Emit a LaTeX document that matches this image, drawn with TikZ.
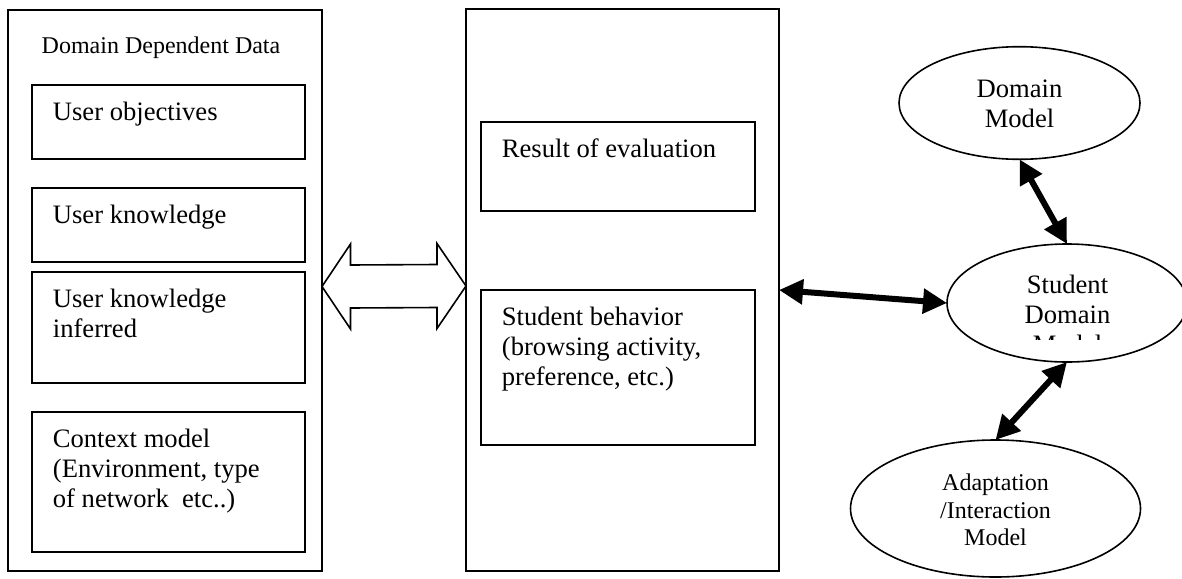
\documentclass[tikz,border=0pt]{standalone}
\usepackage{fontspec}
\setmainfont{Liberation Serif}
\usetikzlibrary{shapes.geometric,arrows.meta,calc}
\begin{document}
\begin{tikzpicture}[x=0.5pt,y=-0.5pt,
  frame/.style={draw, line width=0.8pt, inner sep=0pt, outer sep=0pt},
  item/.style={frame, minimum width=136.5pt},
  txt/.style={anchor=north west, inner sep=0pt, align=left,
    font=\fontsize{13.3}{15}\selectfont},
  oval/.style={ellipse, draw, line width=0.8pt, inner sep=0pt, outer sep=0pt},
  otxt/.style={anchor=north, inner sep=0pt, align=center,
    font=\fontsize{13.3}{15}\selectfont},
  link/.style={line width=3pt,
    {Triangle[length=12pt,width=12pt]}-{Triangle[length=12pt,width=12pt]}},
  hollow/.style={line width=0.8pt, fill=white, line join=miter},
]
\useasboundingbox (0,0) rectangle (1182,578);

% left column: domain dependent data
\node[frame, minimum width=157pt, minimum height=280.5pt] (L) at (165,290.5) {};
\node[anchor=base, inner sep=0pt, font=\fontsize{12}{14}\selectfont] (Ltitle) at (161,53.3) {Domain Dependent Data};
\node[item, minimum height=37pt]   (b1) at (168.5,122)   {};
\node[item, minimum height=37pt]   (b2) at (168.5,225)   {};
\node[item, minimum height=55.5pt] (b3) at (168.5,327.5) {};
\node[item, minimum height=70pt]   (b4) at (168.5,482)   {};
\node[txt] (t1) at ([shift={(20.5,14.5)}]b1.north west) {\strut User objectives};
\node[txt] (t2) at ([shift={(20.5,14.5)}]b2.north west) {\strut User knowledge};
\node[txt] (t3) at ([shift={(20.5,14.5)}]b3.north west) {\strut User knowledge\\inferred};
\node[txt] (t4) at ([shift={(20.5,14.5)}]b4.north west) {\strut Context model\\(Environment, type\\of network\ \ etc..)};

% middle column
\node[frame, minimum width=156.5pt, minimum height=281pt] (M) at (622.5,290) {};
\node[item, minimum width=137pt, minimum height=44.5pt] (r1) at (618,166.5) {};
\node[item, minimum width=137pt, minimum height=77.5pt] (r2) at (618,367.5) {};
\node[txt] (s1) at ([shift={(20.5,14.5)}]r1.north west) {\strut Result of evaluation};
\node[txt] (s2) at ([shift={(20.5,14)}]r2.north west) {\strut Student behavior\\(browsing activity,\\preference, etc.)};

% hollow double arrow between the two columns
\coordinate (ha) at ([yshift=2pt]L.east);
\coordinate (hb) at ([yshift=2pt]M.west);
\draw[hollow] (ha) -- ++(28.5,-42.5) -- ++(0,21) -- ($(hb)+(-29,-21.5)$) -- ++(0,-21)
  -- (hb) -- ++(-29,42.5) -- ++(0,-21) -- ($(ha)+(28.5,21.5)$) -- ++(0,21) -- cycle;

% models on the right
\node[oval, minimum width=120.5pt, minimum height=56.3pt] (dm) at (1019.5,103) {};
\node[otxt] (dmt) at (1019.5,76) {\strut Domain\\Model};

\node[oval, minimum width=120pt, minimum height=59pt] (sd) at (1067,303) {};
\begin{scope}
  \clip (940,250) rectangle (1190,339);
  \node[otxt] (sdt) at (1067.5,272) {\strut Student\\Domain\\Model};
\end{scope}

\node[oval, minimum width=145pt, minimum height=68.5pt] (am) at (995.5,508.5) {};
\node[otxt, font=\fontsize{12}{13.75}\selectfont] (amt) at (995.5,471) {\strut Adaptation\\/Interaction\\Model};

% links
\draw[link] (M.east) -- (sd.west);
\draw[link] (dm.south) -- (sd.north);
\draw[link] (sd.south) -- (am.north);
\end{tikzpicture}
\end{document}
